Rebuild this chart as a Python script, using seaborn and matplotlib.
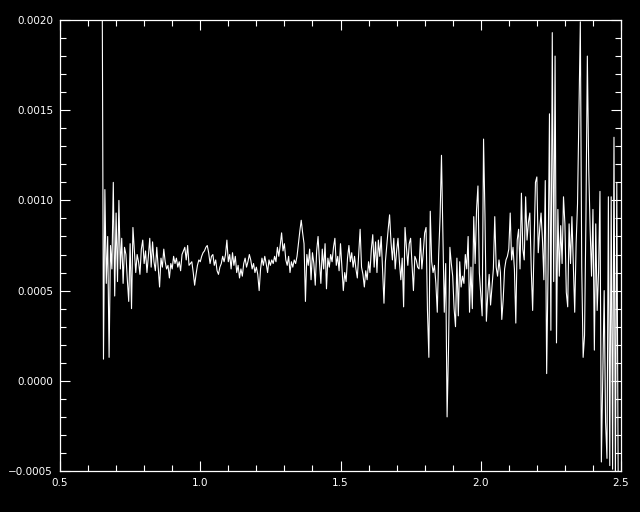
import numpy as np
import matplotlib
matplotlib.use("Agg")
import matplotlib.pyplot as plt
from matplotlib.ticker import MultipleLocator
import seaborn as sns

# spectrum, flux in units of 1e-4
# one row = 0.1 in wavelength, sampled every 0.005 from 0.65
wave_start = 0.65
wave_step = 0.005

flux_blue = [
    24.0, 1.2, 10.6, 5.4, 8.0, 1.3, 7.5, 6.2, 11.0, 4.7, 9.3, 5.5, 10.0, 6.2, 7.9, 5.4, 7.4, 7.0, 5.6, 4.4,
    7.6, 4.0, 8.5, 7.2, 6.0, 7.0, 6.6, 5.9, 7.3, 7.8, 6.5, 7.2, 6.0, 6.9, 7.9, 6.3, 7.7, 6.6, 6.1, 7.4,
    6.3, 5.2, 6.8, 6.3, 7.3, 6.6, 6.2, 6.4, 5.7, 6.5, 6.2, 6.9, 6.5, 6.8, 6.3, 6.6, 6.1, 7.0, 7.2, 7.4,
]
flux_mid = [
    6.7, 7.5, 6.4, 6.5, 6.6, 6.0, 5.3, 5.9, 6.4, 6.7, 6.6, 6.9, 7.1, 7.2, 7.4, 7.5, 7.1, 6.5, 6.9, 7.0,
    6.4, 6.7, 6.1, 5.9, 6.3, 6.5, 6.9, 6.6, 7.0, 7.8, 6.6, 7.0, 6.2, 7.1, 6.4, 6.9, 6.0, 6.4, 5.7, 6.2,
    5.8, 6.5, 6.8, 6.3, 6.6, 7.0, 6.7, 6.2, 6.5, 6.0, 6.3, 5.9, 5.0, 6.2, 6.8, 6.4, 6.9, 6.5, 6.0, 6.7,
    6.4, 6.7, 6.5, 6.9, 6.6, 7.4, 6.9, 7.5, 8.2, 7.2, 7.6, 6.7, 6.4, 6.9, 6.0, 6.6, 6.3, 6.7, 6.5, 6.9,
    7.6, 8.3, 8.9, 8.2, 7.6, 4.4, 7.0, 6.4, 7.3, 5.6, 7.1, 6.5, 5.3, 7.2, 8.0, 6.6, 5.4, 7.3, 6.2, 7.6,
]
flux_red = [
    5.1, 6.8, 6.3, 7.0, 6.6, 7.4, 7.9, 6.4, 6.9, 6.1, 7.6, 6.3, 5.0, 6.0, 5.5, 6.8, 7.5, 6.6, 7.1, 6.3,
    6.9, 6.2, 5.7, 7.0, 8.4, 6.3, 5.9, 5.2, 6.1, 5.6, 6.6, 6.0, 7.3, 8.1, 6.3, 7.7, 6.0, 7.8, 6.9, 8.0,
    6.2, 4.3, 6.6, 7.5, 8.4, 9.2, 7.7, 6.7, 7.9, 6.2, 7.2, 7.9, 6.6, 5.6, 6.8, 4.1, 8.5, 7.4, 6.4, 7.6,
    7.9, 6.5, 5.0, 6.9, 6.7, 6.3, 6.2, 7.9, 6.2, 7.1, 8.2, 8.5, 3.9, 1.3, 9.4, 6.6, 6.0, 6.4, 5.4, 3.8,
    7.0, 9.1, 12.5, 8.0, 3.8, 6.5, -2.0, 1.7, 7.4, 6.5, 5.8, 4.0, 3.0, 6.8, 3.6, 6.6, 5.2, 5.8, 5.4, 7.0,
]
flux_ir = [
    6.2, 8.0, 3.8, 6.3, 4.0, 9.1, 6.5, 9.5, 10.8, 6.0, 4.8, 3.6, 13.4, 9.2, 3.3, 4.8, 5.9, 4.2, 5.2, 6.2,
    9.1, 6.3, 5.8, 6.7, 6.0, 3.4, 4.5, 6.2, 6.7, 6.9, 7.3, 9.3, 6.7, 7.4, 6.2, 3.2, 7.8, 8.4, 6.2, 10.4,
    7.3, 6.7, 10.2, 7.8, 8.8, 9.3, 6.2, 3.9, 7.4, 11.0, 11.3, 7.1, 8.4, 9.3, 7.8, 5.6, 11.1, 0.4, 6.2, 14.8,
    2.8, 19.3, 5.5, 18.0, 2.1, 9.5, 5.8, 8.6, 6.5, 10.2, 8.7, 4.9, 4.1, 8.7, 6.5, 9.1, 6.5, 3.8, 7.6, 9.8,
    15.0, 19.9, 6.3, 1.3, 2.5, 9.0, 18.0, 11.7, 8.4, 5.8, 9.5, 1.7, 8.7, 3.9, 6.0, 10.5, -4.5, 0.3, 5.0, -2.3,
    -4.3, 10.2, -4.7, 10.2, -4.9, 13.5, -5.5, 11.0, -5.5,
]

xticks = [0.5, 1.0, 1.5, 2.0, 2.5]
xtick_labels = ['0.5', '1.0', '1.5', '2.0', '2.5']
yticks = [-0.0005, 0.0, 0.0005, 0.0010, 0.0015, 0.0020]
ytick_labels = ['\u22120.0005', '0.0000', '0.0005', '0.0010', '0.0015', '0.0020']

flux = np.concatenate([flux_blue, flux_mid, flux_red, flux_ir]) * 1e-4
wave = wave_start + wave_step * np.arange(len(flux))

sns.set_style("ticks")
plt.rcParams['font.family'] = ['DejaVu Sans']

fig = plt.figure(figsize=(6.4, 5.12), dpi=100, facecolor='black')
ax = fig.add_axes([60 / 640, 41 / 512, 561 / 640, 451 / 512])
ax.set_facecolor('black')

sns.lineplot(x=wave, y=flux, color='white', linewidth=0.8,
             estimator=None, sort=False, ax=ax)

ax.set_xlim(0.5, 2.5)
ax.set_ylim(-0.0005, 0.0020)
ax.set_xticks(xticks)
ax.set_xticklabels(xtick_labels)
ax.set_yticks(yticks)
ax.set_yticklabels(ytick_labels)
ax.xaxis.set_minor_locator(MultipleLocator(0.1))
ax.yaxis.set_minor_locator(MultipleLocator(0.0001))

for s in ax.spines.values():
    s.set_visible(True)
    s.set_color('white')
    s.set_linewidth(0.9)

ax.tick_params(which='both', direction='in', top=True, right=True,
               color='white', width=0.8, labelcolor='white', labelsize=7.5)
ax.tick_params(which='major', length=7, pad=5)
ax.tick_params(which='minor', length=4)
ax.set_xlabel('')
ax.set_ylabel('')

fig.savefig('out.png', dpi=100, facecolor='black')
